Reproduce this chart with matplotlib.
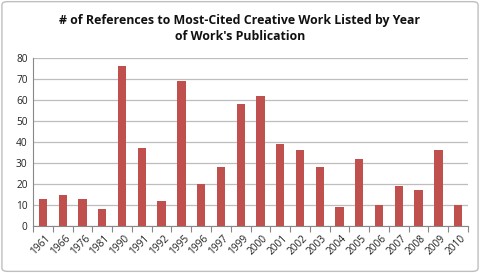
#!/usr/bin/env python3
"""Most-cited creative work references by publication year."""

import matplotlib
matplotlib.use("Agg")
import matplotlib.pyplot as plt
from matplotlib.patches import FancyBboxPatch
import numpy as np

YEARS = ["1961", "1966", "1976", "1981", "1990", "1991", "1992", "1995", "1996", "1997", "1999",
         "2000", "2001", "2002", "2003", "2004", "2005", "2006", "2007", "2008", "2009", "2010"]
COUNTS = [13, 15, 13, 8, 76, 37, 12, 69, 20, 28, 58, 62, 39, 36, 28, 9, 32, 10, 19, 17, 36, 10]
Y_TICKS = [0, 10, 20, 30, 40, 50, 60, 70, 80]
TITLE = "# of References to Most-Cited Creative Work Listed by Year\nof Work's Publication"

BAR_COLOR = "#C0504D"
GRID_COLOR = "#BDBDBD"
TEXT_COLOR = "#222222"


def main() -> None:
    plt.rcParams["font.family"] = ["Open Sans", "DejaVu Sans"]
    fig = plt.figure(figsize=(4.8, 2.73), dpi=100)
    ax = fig.add_axes([0.069, 0.172, 0.906, 0.616])

    x = np.arange(len(YEARS))
    ax.bar(x, COUNTS, width=0.42, color=BAR_COLOR, zorder=3)

    ax.set_xlim(-0.5, len(YEARS) - 0.5)
    ax.set_ylim(0, 80)
    ax.set_yticks(Y_TICKS)
    ax.yaxis.grid(True, color=GRID_COLOR, linewidth=0.9, zorder=0)
    ax.tick_params(axis="y", length=0, labelsize=7.3, colors=TEXT_COLOR, pad=4)

    ax.set_xticks(x + 0.1)
    ax.set_xticklabels(YEARS, rotation=45, ha="right", rotation_mode="anchor", fontsize=7.3, color=TEXT_COLOR)
    ax.tick_params(axis="x", length=0, pad=5)
    ax.set_xticks(np.arange(-0.5, len(YEARS), 1.0), minor=True)
    ax.tick_params(axis="x", which="minor", length=4, color="#888888", width=0.8)

    for side in ("top", "right"):
        ax.spines[side].set_visible(False)
    ax.spines["left"].set_color("#888888")
    ax.spines["bottom"].set_color("#888888")
    ax.spines["left"].set_linewidth(0.8)
    ax.spines["bottom"].set_linewidth(0.8)

    fig.text(0.5, 0.895, TITLE, ha="center", va="center", fontsize=8.9, fontweight="bold",
             color="#111111", linespacing=1.35)

    border = FancyBboxPatch((0.004, 0.006), 0.992, 0.988, boxstyle="round,pad=0,rounding_size=0.012",
                            transform=fig.transFigure, facecolor="none", edgecolor="#BFBFBF", linewidth=1.0)
    fig.patches.append(border)

    fig.savefig("out.png", dpi=100, facecolor="white")
    plt.close(fig)


if __name__ == "__main__":
    main()
